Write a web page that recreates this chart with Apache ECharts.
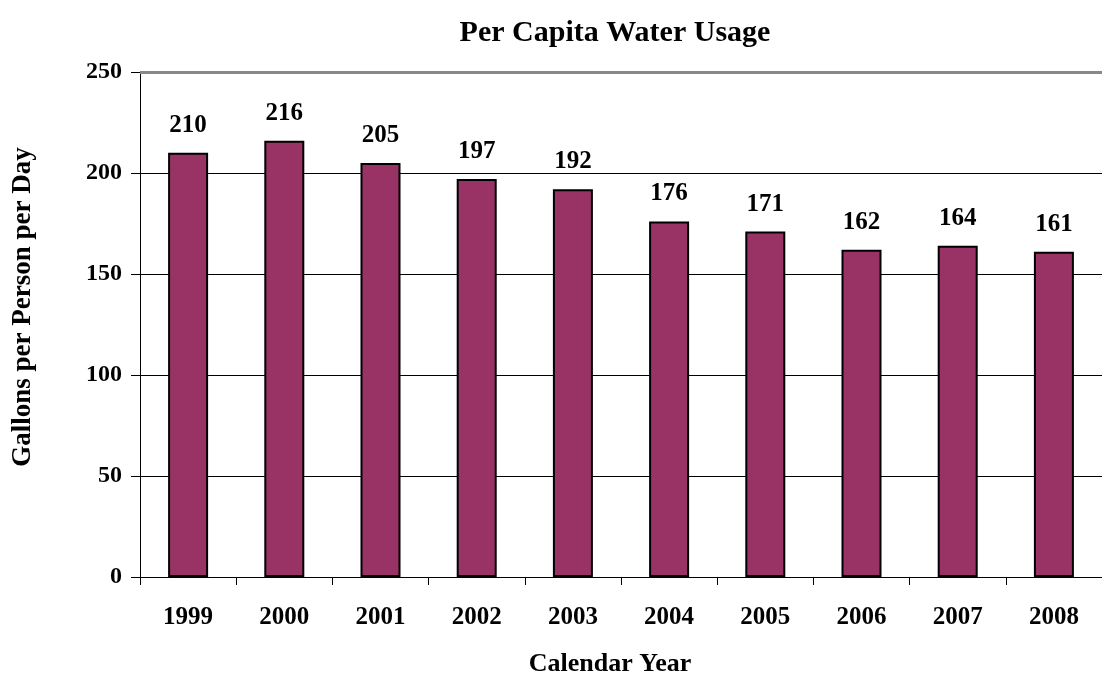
<!DOCTYPE html>
<html><head><meta charset="utf-8">
<script src="https://cdn.jsdelivr.net/npm/echarts@6/dist/echarts.min.js"></script>
<style>html,body{margin:0;padding:0;background:#fff}#c{width:1102px;height:677px}</style>
</head><body><div id="c"></div>
<script>
const years = ['1999','2000','2001','2002','2003','2004','2005','2006','2007','2008'];
const usage = [210,216,205,197,192,176,171,162,164,161];
const yTicks = [0,50,100,150,200,250];
const F = '"Liberation Serif","Times New Roman",serif';
const chart = echarts.init(document.getElementById('c'));
chart.setOption({
  animation:false,
  backgroundColor:'#fff',
  title:{text:'Per Capita Water Usage',left:610,textAlign:'center',top:13,
    textStyle:{fontFamily:F,fontSize:30,fontWeight:'bold',color:'#000'}},
  grid:{left:140,top:72,width:971,height:505,containLabel:false},
  graphic:[
    {type:'text',x:23,y:307,rotation:Math.PI/2,
      style:{text:'Gallons per Person per Day',font:'bold 27px '+F,fill:'#000',align:'center',verticalAlign:'middle'}},
    {type:'text',x:610,y:664,
      style:{text:'Calendar Year',font:'bold 26px '+F,fill:'#000',align:'center',verticalAlign:'middle'}}
  ],
  xAxis:{type:'category',data:years,
    axisLine:{lineStyle:{color:'#000',width:1}},
    axisTick:{show:true,length:8,lineStyle:{color:'#000'}},
    axisLabel:{fontFamily:F,fontSize:25,fontWeight:'bold',color:'#000',margin:28}},
  yAxis:{type:'value',min:yTicks[0],max:yTicks[yTicks.length-1],interval:50,
    axisLine:{show:true,lineStyle:{color:'#000',width:1}},
    axisTick:{show:true,length:9,lineStyle:{color:'#000'}},
    axisLabel:{fontFamily:F,fontSize:24,fontWeight:'bold',color:'#000',margin:18},
    splitLine:{lineStyle:{color:'#000',width:1}}},
  series:[{type:'bar',data:usage,barWidth:40,
    itemStyle:{color:'#993366',borderColor:'#000',borderWidth:2},
    label:{show:true,position:'top',distance:15,fontFamily:F,fontSize:25,fontWeight:'bold',color:'#000'},
    markLine:{silent:true,symbol:'none',label:{show:false},
      lineStyle:{color:'#888',width:3,type:'solid'},data:[{yAxis:250}]}
  }]
});
</script></body></html>
